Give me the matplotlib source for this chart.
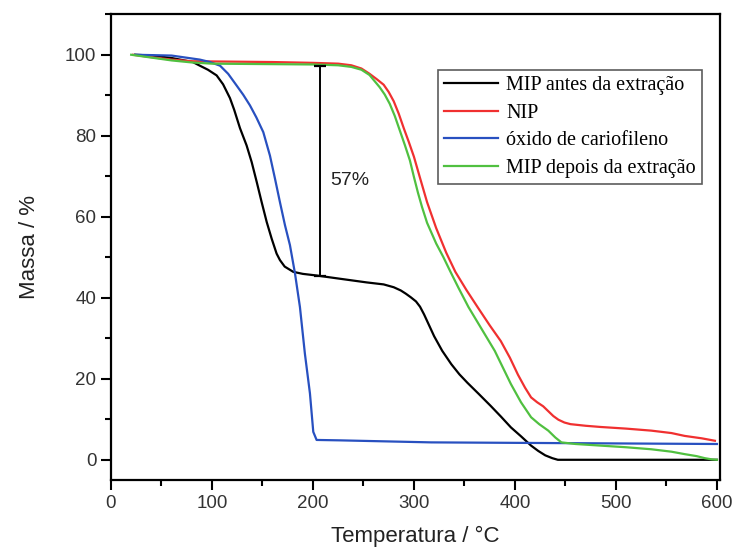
import matplotlib
matplotlib.use("Agg")
import matplotlib.pyplot as plt
from matplotlib.ticker import MultipleLocator

# TGA curves: temperature (°C) and residual mass (%)
mip_antes_T = [24, 40, 60, 81, 88, 96, 104.6, 111, 117.8, 122, 127.7, 134.3, 139.3, 144.3,
               149.2, 154.2, 159.1, 164, 167.3, 172, 180.5, 190, 203.6, 226.7, 253, 270, 280,
               287, 292, 297, 302, 306, 310, 315, 320, 328, 337, 345, 353, 364, 376, 386, 396,
               406, 416, 423, 430, 437, 442.5, 600]
mip_antes_M = [100, 99.8, 99.2, 98.2, 97.3, 96.3, 94.9, 92.7, 89.3, 86.4, 81.9, 77.6, 73.5, 68.6,
               63.6, 58.7, 54.6, 50.9, 49.3, 47.7, 46.4, 45.9, 45.5, 44.7, 43.8, 43.3, 42.6,
               41.8, 41, 40.1, 39.1, 37.8, 35.9, 33.2, 30.5, 26.9, 23.6, 21.1, 19, 16.3, 13.3,
               10.7, 8, 5.8, 3.5, 2.2, 1.1, 0.4, 0, 0]

nip_T = [22, 40, 60, 80, 120, 160, 200, 225, 238, 248, 256, 263, 270, 275, 280, 285, 290,
         295, 300, 306, 313, 322, 332, 341, 352, 363, 375, 386, 395, 403, 410, 416, 422, 428,
         433, 438, 443, 449, 455, 470, 485, 510, 535, 555, 568, 585, 598]
nip_M = [100, 99.4, 98.8, 98.4, 98.3, 98.2, 98, 97.8, 97.4, 96.6, 95.3, 94, 92.6, 90.8, 88.5,
         85.4, 81.8, 78.4, 74.8, 69.6, 63.6, 57.2, 51.1, 46.4, 41.9, 37.7, 33.2, 29.3, 25.2,
         21, 17.8, 15.4, 14.2, 13.2, 12, 10.8, 9.9, 9.2, 8.8, 8.4, 8.1, 7.7, 7.2, 6.6, 5.9,
         5.3, 4.7]

oxido_T = [24, 60, 88, 98, 108, 116, 124.4, 131, 137.6, 144, 150.8, 157.4, 162.4, 167.3,
           172.3, 177.2, 182.2, 187.1, 192, 197, 200.3, 203.6, 226.7, 317, 600]
oxido_M = [100, 99.8, 98.8, 98.2, 97.3, 95.3, 92.4, 90.1, 87.5, 84.5, 80.9, 75.1, 69.4, 63.6,
           57.9, 53, 46, 37.7, 26.2, 16.4, 6.9, 4.9, 4.8, 4.3, 3.9]

mip_depois_T = [20, 40, 60, 80, 100, 150, 200, 225, 238, 248, 256, 266, 271, 276, 281, 286,
                291, 296, 300, 304, 308, 313, 322, 329, 336, 344, 354, 367, 380, 388, 396, 406,
                416, 424, 433, 440, 446, 460, 485, 510, 535, 555, 568, 580, 588, 595, 600]
mip_depois_M = [100, 99.3, 98.6, 98.1, 97.8, 97.7, 97.6, 97.4, 97, 96.3, 95, 92, 90.2, 87.9,
                84.9, 81.3, 77.7, 73.9, 69.8, 65.9, 62.4, 58.5, 53.4, 50.1, 46.5, 42.5, 37.7,
                32.3, 26.9, 22.8, 18.7, 14.2, 10.5, 8.8, 7.2, 5.5, 4.3, 3.9, 3.5, 3.1, 2.6, 2,
                1.4, 0.9, 0.4, 0.1, 0]

labels = ["MIP antes da extração", "NIP", "óxido de cariofileno", "MIP depois da extração"]

# mass-loss marker between the two plateaus
loss_T = 207
loss_top = 97.3
loss_bottom = 45.3
loss_text = "57%"

fig = plt.figure(figsize=(7.36, 5.48), dpi=100)
ax = fig.add_axes([0.1508, 0.124, 0.8274, 0.850])

lw = 1.6
ax.plot(mip_antes_T, mip_antes_M, color="#000000", lw=lw, label=labels[0])
ax.plot(nip_T, nip_M, color="#f03030", lw=lw, label=labels[1])
ax.plot(oxido_T, oxido_M, color="#2850c0", lw=lw, label=labels[2])
ax.plot(mip_depois_T, mip_depois_M, color="#50c040", lw=lw, label=labels[3])

# vertical bracket with caps
ax.vlines(loss_T, loss_bottom, loss_top, color="black", lw=1.4)
ax.hlines([loss_top, loss_bottom], loss_T - 6, loss_T + 6, color="black", lw=1.6)
ax.text(loss_T + 10, 69, loss_text, fontsize=14, color="#222222",
        family="Liberation Sans", va="center", ha="left")

ax.set_xlim(0, 603)
ax.set_ylim(-5, 110)
ax.xaxis.set_major_locator(MultipleLocator(100))
ax.xaxis.set_minor_locator(MultipleLocator(50))
ax.yaxis.set_major_locator(MultipleLocator(20))
ax.yaxis.set_minor_locator(MultipleLocator(10))
ax.set_yticks([0, 20, 40, 60, 80, 100])

for s in ax.spines.values():
    s.set_linewidth(1.6)
ax.tick_params(which="major", direction="out", length=7, width=1.5,
               labelsize=13.5, labelcolor="#333333", top=False, right=False)
ax.tick_params(which="minor", direction="out", length=4, width=1.5, top=False, right=False)
for lab in ax.get_xticklabels() + ax.get_yticklabels():
    lab.set_family("Liberation Sans")

ax.set_xlabel("Temperatura / °C", fontsize=16, family="Liberation Sans", color="#222222",
              labelpad=10)
ax.set_ylabel("Massa / %", fontsize=16, family="Liberation Sans", color="#222222",
              labelpad=18)

leg = ax.legend(loc="upper left", bbox_to_anchor=(0.537, 0.880),
                prop={"family": "Liberation Serif", "size": 14.5},
                frameon=True, fancybox=False, edgecolor="#333333",
                handlelength=2.7, handletextpad=0.4, labelspacing=0.42,
                borderpad=0.3, borderaxespad=0)
leg.get_frame().set_linewidth(1.2)

fig.savefig("out.png", dpi=100)
